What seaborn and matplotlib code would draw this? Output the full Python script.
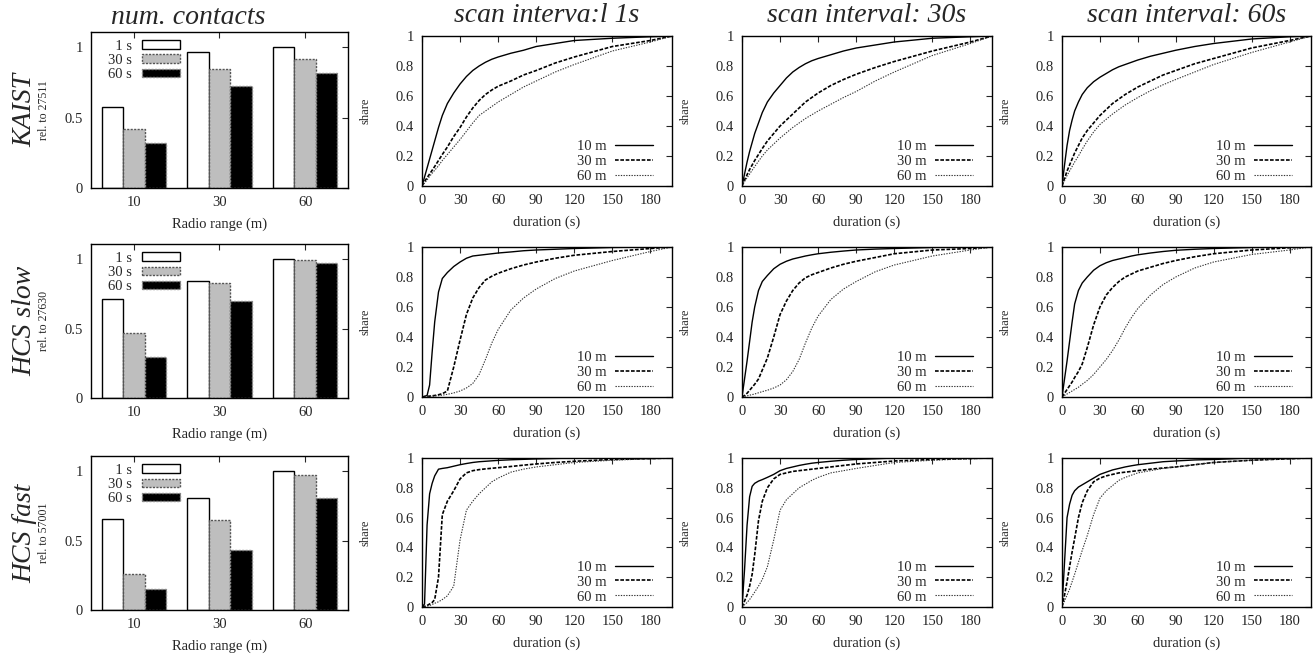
import numpy as np
import pandas as pd
import seaborn as sns
import matplotlib.pyplot as plt
from matplotlib.ticker import FuncFormatter

# ---- data ----
RANGES = ['10', '30', '60']
INTERVALS = ['1 s', '30 s', '60 s']
DATASETS = ['KAIST', 'HCS slow', 'HCS fast']
REL_TO = ['rel. to 27511', 'rel. to 27630', 'rel. to 57001']

KAIST_1S = [0.576, 0.967, 1.0]
KAIST_30S = [0.419, 0.848, 0.92]
KAIST_60S = [0.32, 0.727, 0.82]
SLOW_1S = [0.71, 0.845, 1.0]
SLOW_30S = [0.471, 0.829, 0.995]
SLOW_60S = [0.298, 0.702, 0.974]
FAST_1S = [0.659, 0.806, 1.0]
FAST_30S = [0.258, 0.649, 0.974]
FAST_60S = [0.149, 0.434, 0.806]

DURATION = [0, 2, 4, 6, 8, 10, 13, 16, 20, 25, 30, 35, 40, 45, 50, 55, 60, 70, 80, 90, 105, 120, 150, 180, 197]

# KAIST, scan interval 1s / 30s / 60s
KAIST_S1_10 = [0, .06, .12, .18, .24, .30, .39, .47, .55, .62, .68, .73, .77, .80, .825, .845, .86, .885, .905, .93, .95, .97, .985, .995, 1]
KAIST_S1_30 = [0, .03, .055, .08, .105, .13, .17, .21, .26, .33, .39, .46, .52, .57, .61, .64, .665, .70, .74, .77, .82, .86, .93, .97, 1]
KAIST_S1_60 = [0, .02, .04, .065, .085, .105, .135, .17, .21, .26, .31, .365, .42, .47, .50, .53, .56, .61, .66, .70, .76, .81, .90, .96, 1]
KAIST_S30_10 = [0, .08, .16, .23, .29, .35, .42, .49, .56, .62, .67, .72, .76, .79, .815, .835, .85, .875, .90, .92, .94, .96, .985, .995, 1]
KAIST_S30_30 = [0, .04, .075, .11, .14, .17, .21, .25, .30, .35, .40, .44, .48, .52, .56, .59, .62, .67, .71, .745, .79, .83, .90, .96, 1]
KAIST_S30_60 = [0, .03, .055, .08, .105, .13, .165, .20, .24, .28, .32, .355, .39, .42, .45, .475, .50, .545, .59, .63, .70, .76, .87, .95, 1]
KAIST_S60_10 = [0, .14, .27, .37, .44, .50, .56, .61, .655, .695, .725, .75, .775, .795, .81, .825, .84, .865, .885, .905, .93, .95, .98, .995, 1]
KAIST_S60_30 = [0, .05, .10, .14, .18, .22, .27, .32, .37, .42, .47, .51, .55, .58, .61, .635, .66, .70, .74, .77, .815, .85, .92, .97, 1]
KAIST_S60_60 = [0, .035, .07, .10, .13, .16, .20, .245, .30, .36, .41, .445, .48, .51, .54, .565, .59, .635, .675, .71, .76, .81, .89, .96, 1]

# HCS slow
SLOW_S1_10 = [0, .005, .01, .08, .30, .50, .70, .79, .83, .87, .90, .925, .94, .945, .95, .955, .96, .967, .975, .98, .985, .99, .997, 1, 1]
SLOW_S1_30 = [0, .002, .004, .006, .008, .01, .015, .022, .04, .20, .38, .55, .66, .73, .78, .805, .825, .855, .88, .90, .925, .945, .97, .99, 1]
SLOW_S1_60 = [0, .001, .002, .004, .005, .007, .009, .012, .018, .027, .04, .06, .09, .15, .25, .36, .45, .58, .66, .72, .79, .84, .91, .97, 1]
SLOW_S30_10 = [0, .12, .24, .37, .50, .60, .71, .77, .81, .855, .885, .905, .92, .93, .94, .948, .955, .965, .973, .98, .986, .99, .997, 1, 1]
SLOW_S30_30 = [0, .01, .025, .045, .065, .085, .12, .18, .26, .40, .55, .64, .71, .76, .795, .815, .83, .86, .885, .905, .93, .955, .98, .99, 1]
SLOW_S30_60 = [0, .004, .008, .012, .016, .02, .028, .036, .045, .06, .08, .115, .17, .25, .36, .46, .54, .65, .72, .77, .835, .88, .94, .98, 1]
SLOW_S60_10 = [0, .12, .24, .37, .50, .62, .71, .76, .80, .845, .875, .895, .91, .92, .93, .94, .948, .96, .97, .978, .985, .99, .997, 1, 1]
SLOW_S60_30 = [0, .025, .05, .075, .10, .13, .17, .22, .33, .48, .60, .68, .73, .77, .80, .82, .84, .865, .89, .91, .935, .955, .98, .995, 1]
SLOW_S60_60 = [0, .01, .02, .03, .04, .05, .065, .085, .11, .15, .20, .25, .31, .38, .46, .53, .59, .68, .75, .80, .86, .90, .95, .98, 1]

# HCS fast
FAST_S1_10 = [0, .02, .55, .76, .83, .88, .925, .93, .935, .945, .955, .963, .97, .975, .978, .981, .984, .988, .991, .994, .997, 1, 1, 1, 1]
FAST_S1_30 = [0, .005, .01, .02, .03, .05, .20, .62, .71, .78, .86, .90, .915, .922, .927, .931, .935, .943, .952, .96, .97, .978, .99, .996, 1]
FAST_S1_60 = [0, .003, .006, .01, .017, .025, .035, .05, .075, .14, .45, .65, .71, .76, .80, .84, .865, .905, .925, .94, .955, .97, .985, .995, 1]
FAST_S30_10 = [0, .25, .55, .74, .81, .83, .845, .855, .87, .89, .915, .93, .94, .95, .958, .965, .97, .978, .985, .99, .995, 1, 1, 1, 1]
FAST_S30_30 = [0, .04, .08, .14, .22, .35, .58, .71, .80, .86, .89, .90, .91, .915, .92, .925, .93, .94, .95, .96, .97, .98, .99, .997, 1]
FAST_S30_60 = [0, .015, .03, .05, .075, .10, .14, .185, .27, .45, .65, .72, .76, .80, .825, .85, .87, .90, .915, .93, .95, .97, .985, .995, 1]
FAST_S60_10 = [0, .30, .60, .69, .75, .78, .805, .82, .84, .865, .89, .905, .92, .93, .94, .948, .955, .965, .975, .98, .987, .99, 1, 1, 1]
FAST_S60_30 = [0, .08, .17, .27, .37, .46, .60, .70, .78, .84, .865, .88, .89, .90, .905, .91, .915, .925, .933, .94, .955, .97, .985, .995, 1]
FAST_S60_60 = [0, .04, .08, .12, .17, .22, .30, .38, .48, .62, .73, .78, .815, .85, .87, .885, .90, .915, .93, .94, .955, .97, .985, .995, 1]

BARS = [
    [KAIST_1S, KAIST_30S, KAIST_60S],
    [SLOW_1S, SLOW_30S, SLOW_60S],
    [FAST_1S, FAST_30S, FAST_60S],
]
CDFS = [
    [[KAIST_S1_10, KAIST_S1_30, KAIST_S1_60], [KAIST_S30_10, KAIST_S30_30, KAIST_S30_60], [KAIST_S60_10, KAIST_S60_30, KAIST_S60_60]],
    [[SLOW_S1_10, SLOW_S1_30, SLOW_S1_60], [SLOW_S30_10, SLOW_S30_30, SLOW_S30_60], [SLOW_S60_10, SLOW_S60_30, SLOW_S60_60]],
    [[FAST_S1_10, FAST_S1_30, FAST_S1_60], [FAST_S30_10, FAST_S30_30, FAST_S30_60], [FAST_S60_10, FAST_S60_30, FAST_S60_60]],
]
COL_TITLES = ['num. contacts', 'scan interva:l 1s', 'scan interval: 30s', 'scan interval: 60s']
CURVE_LABELS = ['10 m', '30 m', '60 m']

# ---- style ----
sns.set_style('white')
plt.rcParams['font.family'] = ['Liberation Serif', 'DejaVu Serif']
plt.rcParams['font.size'] = 10.5
plt.rcParams['axes.linewidth'] = 1.0

W, H = 1316, 655
fig = plt.figure(figsize=(W / 100, H / 100), dpi=100)


def px_axes(x0, y0, x1, y1):
    return fig.add_axes([x0 / W, 1 - y1 / H, (x1 - x0) / W, (y1 - y0) / H])


fmt = FuncFormatter(lambda v, _: f'{v:g}')
bar_rows = [(32, 188), (244, 398), (456, 610)]
cdf_rows = [(36, 186), (247, 397), (458, 607)]
cdf_cols = [(422, 672), (742, 992), (1062, 1311)]

bar_colors = ['#ffffff', '#bebebe', '#000000']
bar_edges = [('#000000', '-'), ('#555555', (0, (1.5, 1))), ('#888888', (0, (1.5, 1)))]
line_styles = [('#000000', '-', 1.0), ('#000000', (0, (2.2, 1)), 1.2), ('#333333', (0, (1.2, 1.2)), 0.8)]
# figure space pads the short label so the texts line up on the right
legend_labels = ['\u2007' + INTERVALS[0], INTERVALS[1], INTERVALS[2]]

for r in range(3):
    # bar panel
    y0, y1 = bar_rows[r]
    ax = px_axes(91, y0, 348, y1)
    df = pd.DataFrame({
        'range': np.repeat(RANGES, 3),
        'interval': INTERVALS * 3,
        'value': [BARS[r][k][i] for i in range(3) for k in range(3)],
    })
    sns.barplot(data=df, x='range', y='value', hue='interval', hue_order=INTERVALS,
                palette=bar_colors, width=0.75, saturation=1, legend=False, ax=ax)
    for cont, (ec, ls) in zip(ax.containers, bar_edges):
        for p in cont:
            p.set_edgecolor(ec)
            p.set_linestyle(ls)
            p.set_linewidth(1.0)
    ax.set_ylim(0, 1.11)
    ax.set_xlim(-0.5, 2.5)
    ax.set_yticks([0, 0.5, 1])
    ax.yaxis.set_major_formatter(fmt)
    ax.set_xlabel('Radio range (m)', fontsize=10.5, labelpad=6)
    ax.set_ylabel('')
    ax.tick_params(direction='in', top=True, right=True, length=4, width=0.8,
                   labelsize=10.5, pad=6)
    for s in ax.spines.values():
        s.set_color('black')
    ax.legend(ax.containers, legend_labels, loc='upper right', bbox_to_anchor=(0.385, 1.015),
              markerfirst=False, frameon=False, handlelength=2.6, handleheight=0.55,
              labelspacing=0.08, handletextpad=0.7, borderaxespad=0.3, fontsize=10.5)

    # row labels
    yc = 1 - (y0 + y1) / 2 / H
    fig.text(25 / W, yc, DATASETS[r], rotation=90, ha='center', va='center',
             fontsize=20, style='italic')
    fig.text(44 / W, yc, REL_TO[r], rotation=90, ha='center', va='center', fontsize=8.5)
    if r == 0:
        fig.text(188 / W, 1 - 17 / H, COL_TITLES[0], ha='center', va='center',
                 fontsize=20, style='italic')

    # cdf panels
    cy0, cy1 = cdf_rows[r]
    for c in range(3):
        cx0, cx1 = cdf_cols[c]
        ax = px_axes(cx0, cy0, cx1, cy1)
        for k in range(3):
            col, ls, lw = line_styles[k]
            sns.lineplot(x=DURATION, y=CDFS[r][c][k], ax=ax, color=col, linestyle=ls,
                         linewidth=lw, label=CURVE_LABELS[k])
        ax.set_xlim(0, 197)
        ax.set_ylim(0, 1)
        ax.set_xticks(range(0, 181, 30))
        ax.set_yticks([0, 0.2, 0.4, 0.6, 0.8, 1.0])
        ax.yaxis.set_major_formatter(fmt)
        ax.set_xlabel('duration (s)', fontsize=10.5, labelpad=6)
        ax.set_ylabel('share', fontsize=9, labelpad=17)
        ax.tick_params(direction='in', top=True, right=True, length=4, width=0.8,
                       labelsize=10.5, pad=6)
        for s in ax.spines.values():
            s.set_color('black')
        ax.legend(loc='lower right', bbox_to_anchor=(0.978, -0.065), markerfirst=False,
                  frameon=False, handlelength=2.6, labelspacing=0.12, handletextpad=0.6,
                  fontsize=10.5)
        if r == 0:
            fig.text((cx0 + cx1) / 2 / W, 1 - 16 / H, COL_TITLES[c + 1], ha='center',
                     va='center', fontsize=20, style='italic')

fig.savefig('out.png', dpi=100)
